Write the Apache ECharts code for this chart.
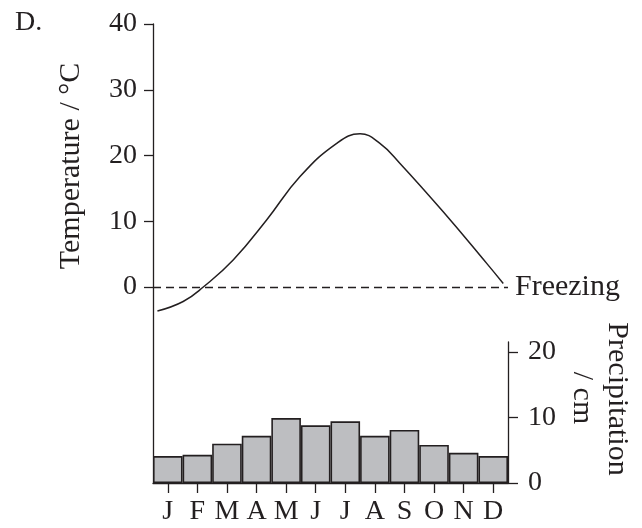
<!DOCTYPE html>
<html>
<head>
<meta charset="utf-8">
<script src="https://cdn.jsdelivr.net/npm/echarts@6/dist/echarts.min.js"></script>
<style>
html,body{margin:0;padding:0;background:#fff;}
#chart{width:642px;height:528px;}
</style>
</head>
<body>
<div id="chart"></div>
<script>
// ---- data ----
const months = ['J','F','M','A','M','J','J','A','S','O','N','D'];
const precipValues = [4.1, 4.3, 6.0, 7.2, 9.9, 8.8, 9.4, 7.2, 8.1, 5.8, 4.6, 4.1];
// temperature curve: position in months (0 = start of Jan, 12 = end of Dec) and °C
const tempMonthPos = [0.15, 1.02, 1.70, 2.71, 3.84, 4.97, 6.21, 7.0, 7.67, 8.35, 9.81, 11.28, 11.84];
const tempValues   = [-3.65, -2.2, 0.0, 4.1, 10.2, 16.8, 21.85, 23.3, 21.85, 18.8, 11.45, 3.6, 0.55];
const tempTicks = [0, 10, 20, 30, 40];
const precipTicks = [0, 10, 20];
const freezingLevel = 0;

const FONT = 'Liberation Serif';
const FS = 28;
const FN = 30;
const INK = '#231f20';

const chart = echarts.init(document.getElementById('chart'), null, {renderer: 'canvas'});
const tempData = tempMonthPos.map((x, i) => [x, tempValues[i]]);

chart.setOption({
  animation: false,
  backgroundColor: '#fff',
  textStyle: {fontFamily: FONT},
  grid: [
    {left: 153, right: 134, top: 24, bottom: 45},
    {left: 153, right: 134, top: 342, bottom: 45}
  ],
  xAxis: [
    {gridIndex: 0, type: 'value', min: 0, max: 12, show: false},
    {gridIndex: 1, type: 'category', data: months, boundaryGap: true,
     axisLine: {show: true, lineStyle: {color: INK, width: 1.3}},
     axisTick: {show: true, alignWithLabel: true, length: 10, lineStyle: {color: INK, width: 1.3}},
     axisLabel: {fontFamily: FONT, fontSize: FS, color: INK, margin: 15, interval: 0},
     splitLine: {show: false}}
  ],
  yAxis: [
    {gridIndex: 0, type: 'value', position: 'left', min: -29.8, max: 40,
     axisLine: {show: true, lineStyle: {color: INK, width: 1.3}},
     axisTick: {show: true, length: 9, customValues: tempTicks, lineStyle: {color: INK, width: 1.3}},
     axisLabel: {fontFamily: FONT, fontSize: FS, color: INK, margin: 16, customValues: tempTicks},
     splitLine: {show: false}},
    {gridIndex: 1, type: 'value', position: 'right', min: 0, max: 21.5,
     axisLine: {show: true, lineStyle: {color: INK, width: 1.3}},
     axisTick: {show: true, length: 10, customValues: precipTicks, lineStyle: {color: INK, width: 1.3}},
     axisLabel: {fontFamily: FONT, fontSize: FS, color: INK, margin: 20, customValues: precipTicks},
     splitLine: {show: false}}
  ],
  series: [
    {type: 'bar', xAxisIndex: 1, yAxisIndex: 1, data: precipValues,
     barWidth: '100%', barCategoryGap: '0%',
     itemStyle: {color: '#bdbec1', borderColor: INK, borderWidth: 1.6},
     z: 2},
    {type: 'line', xAxisIndex: 0, yAxisIndex: 0, data: tempData,
     smooth: 0.45, symbol: 'none',
     lineStyle: {color: INK, width: 1.5},
     markLine: {silent: true, symbol: 'none',
       lineStyle: {color: INK, width: 1.3, type: [8, 5]},
       label: {show: true, position: 'end', distance: 7, formatter: 'Freezing',
               fontFamily: FONT, fontSize: FN, color: INK},
       data: [{yAxis: freezingLevel}]},
     z: 3}
  ],
  graphic: [
    {type: 'text', x: 15, y: 23, style: {text: 'D.', fontFamily: FONT, fontSize: FS, fill: INK, textAlign: 'left', textVerticalAlign: 'middle'}},
    {type: 'text', x: 71, y: 166, rotation: Math.PI / 2, style: {text: 'Temperature / °C', fontFamily: FONT, fontSize: FN, fill: INK, textAlign: 'center', textVerticalAlign: 'middle'}},
    {type: 'text', x: 617, y: 399, rotation: -Math.PI / 2, style: {text: 'Precipitation', fontFamily: FONT, fontSize: FN, fill: INK, textAlign: 'center', textVerticalAlign: 'middle'}},
    {type: 'text', x: 582, y: 398, rotation: -Math.PI / 2, style: {text: '/ cm', fontFamily: FONT, fontSize: FN, fill: INK, textAlign: 'center', textVerticalAlign: 'middle'}}
  ]
});
</script>
</body>
</html>
